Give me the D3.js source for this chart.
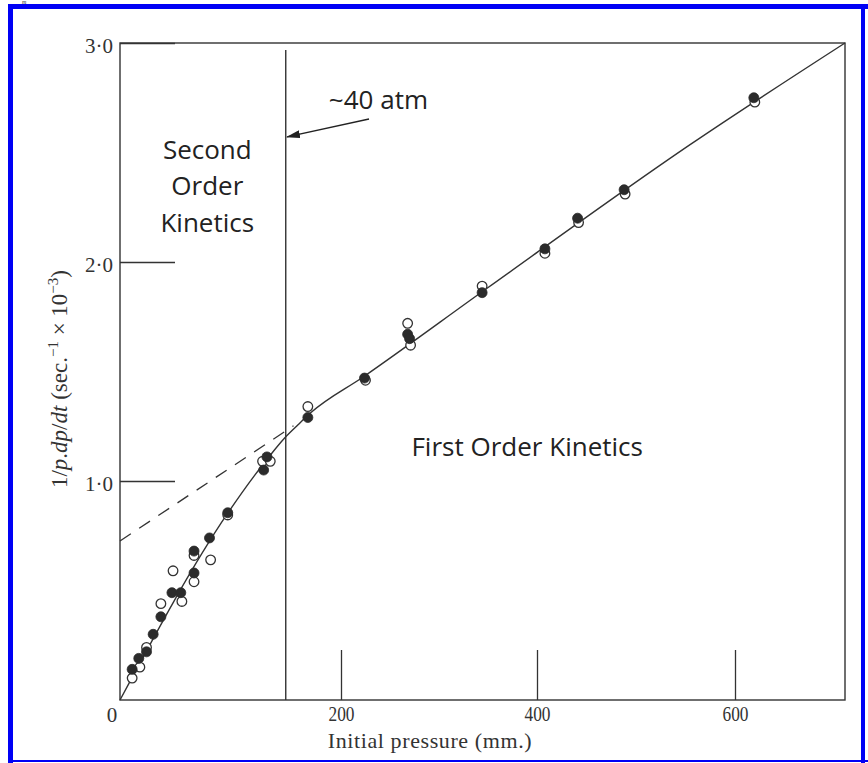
<!DOCTYPE html>
<html><head><meta charset="utf-8">
<script src="https://cdn.jsdelivr.net/npm/d3@7"></script>
<style>
html,body{margin:0;padding:0;background:#fff;}
svg{display:block;}
</style></head><body>
<svg id="chart" width="868" height="763"></svg>
<script>
// ---------- data ----------
const xTickValues = [200, 400, 600];
const xTickLabels = ["200", "400", "600"];
const yTickValues = [1, 2, 3];
const yTickLabels = ["1·0", "2·0", "3·0"];
const originLabel = "0";
const xAxisTitle = "Initial pressure (mm.)";

const filledPressure = [11, 17, 24, 30, 37, 47, 55, 67, 67, 81, 97.5, 130, 133, 170, 224, 268, 270, 344, 408, 441, 488, 619];
const filledRate     = [0.14, 0.19, 0.22, 0.30, 0.38, 0.49, 0.49, 0.58, 0.68, 0.74, 0.855, 1.05, 1.11, 1.29, 1.47, 1.67, 1.65, 1.86, 2.06, 2.20, 2.33, 2.75];
const openPressure   = [11, 18, 24, 37, 48, 56, 67, 67, 82, 97.5, 129, 136, 170, 225, 268, 271, 344, 408, 442, 489, 620];
const openRate       = [0.10, 0.15, 0.24, 0.44, 0.59, 0.45, 0.54, 0.66, 0.64, 0.845, 1.09, 1.09, 1.34, 1.46, 1.72, 1.62, 1.89, 2.04, 2.18, 2.31, 2.73];

const fitPressure = [0, 97.5, 122, 134, 149, 160, 172, 223, 349, 555, 711];
const fitRate     = [0, 0.853, 1.027, 1.105, 1.196, 1.251, 1.309, 1.476, 1.880, 2.537, 3.0];
const extrapPressure = [0, 157];
const extrapRate     = [0.726, 1.252];
const boundaryPressure = 150;

// ---------- layout ----------
const svg = d3.select("#chart");
const W = 868, H = 763;
const serif = "'Liberation Serif','Times New Roman',serif";
const sans = "'Open Sans','Noto Sans',sans-serif";
const ink = "#333";

svg.append("rect").attr("width", W).attr("height", H).attr("fill", "#fff");

// scanned figure: x axis spacing is not uniform, use a polylinear scale
const x = d3.scaleLinear().domain([0, 200, 400, 600, 711]).range([120, 341, 537, 735, 845]);
const y = d3.scaleLinear().domain([0, 3]).range([700, 43]);

// frame
svg.append("rect")
  .attr("x", x(0)).attr("y", y(3))
  .attr("width", x(711) - x(0)).attr("height", y(0) - y(3))
  .attr("fill", "none").attr("stroke", ink).attr("stroke-width", 1.4);

// x axis ticks (inward)
const gx = svg.append("g").attr("transform", `translate(0,${y(0)})`)
  .call(d3.axisBottom(x).tickValues(xTickValues).tickSize(-50).tickPadding(6)
        .tickFormat((d, i) => xTickLabels[i]));
gx.select(".domain").remove();
gx.selectAll(".tick line").attr("stroke", ink).attr("stroke-width", 1.3);
gx.selectAll(".tick text").attr("fill", ink).attr("font-family", serif).attr("font-size", 21)
  .attr("textLength", 26).attr("lengthAdjust", "spacingAndGlyphs");

// y axis ticks (inward)
const gy = svg.append("g").attr("transform", `translate(${x(0)},0)`)
  .call(d3.axisLeft(y).tickValues(yTickValues).tickSize(-55).tickPadding(7)
        .tickFormat((d, i) => yTickLabels[i]));
gy.select(".domain").remove();
gy.selectAll(".tick line").attr("stroke", ink).attr("stroke-width", 1.3);
gy.selectAll(".tick text").attr("fill", ink).attr("font-family", serif).attr("font-size", 21)
  .attr("dy", "0.45em");

// origin label
svg.append("text").attr("x", x(0) - 8).attr("y", y(0) + 22)
  .attr("text-anchor", "middle").attr("font-family", serif).attr("font-size", 21)
  .attr("fill", ink).text(originLabel);

// x axis title
svg.append("text").attr("x", 430).attr("y", 748)
  .attr("text-anchor", "middle").attr("font-family", serif).attr("font-size", 22)
  .attr("letter-spacing", 0.6).attr("fill", ink).text(xAxisTitle);

// y axis title
const yt = svg.append("text")
  .attr("transform", "translate(67,379) rotate(-90)")
  .attr("text-anchor", "middle").attr("font-family", serif).attr("font-size", 23).attr("fill", ink);
yt.append("tspan").text("1/");
yt.append("tspan").attr("font-style", "italic").text("p");
yt.append("tspan").text(".");
yt.append("tspan").attr("font-style", "italic").text("dp");
yt.append("tspan").text("/");
yt.append("tspan").attr("font-style", "italic").text("dt");
yt.append("tspan").text(" (sec.");
yt.append("tspan").attr("font-size", 15).attr("dy", -9).text("−1");
yt.append("tspan").attr("dy", 9).text(" × 10");
yt.append("tspan").attr("font-size", 15).attr("dy", -9).text("−3");
yt.append("tspan").attr("dy", 9).text(")");

// boundary line
svg.append("line")
  .attr("x1", x(boundaryPressure)).attr("x2", x(boundaryPressure))
  .attr("y1", y(0)).attr("y2", y(2.968))
  .attr("stroke", ink).attr("stroke-width", 1.4);

// extrapolated dashed line
svg.append("path")
  .attr("d", d3.line().x(d => x(d[0])).y(d => y(d[1]))(extrapPressure.map((p, i) => [p, extrapRate[i]])))
  .attr("fill", "none").attr("stroke", ink).attr("stroke-width", 1.3).attr("stroke-dasharray", "13,10");

// fitted curve
svg.append("path")
  .attr("d", d3.line().x(d => x(d[0])).y(d => y(d[1])).curve(d3.curveMonotoneX)(fitPressure.map((p, i) => [p, fitRate[i]])))
  .attr("fill", "none").attr("stroke", ink).attr("stroke-width", 1.4);

// points
svg.append("g").selectAll("circle").data(openPressure.map((p, i) => [p, openRate[i]]))
  .join("circle").attr("cx", d => x(d[0])).attr("cy", d => y(d[1])).attr("r", 4.8)
  .attr("fill", "#fff").attr("stroke", ink).attr("stroke-width", 1.3);
svg.append("g").selectAll("circle").data(filledPressure.map((p, i) => [p, filledRate[i]]))
  .join("circle").attr("cx", d => x(d[0])).attr("cy", d => y(d[1])).attr("r", 5)
  .attr("fill", "#2b2b2b").attr("stroke", "#2b2b2b").attr("stroke-width", 0.8);

// annotations
const secondLines = ["Second", "Order", "Kinetics"];
const secondBase = [2.470, 2.306, 2.137];
svg.append("g").selectAll("text").data(secondLines).join("text")
  .attr("x", x(79)).attr("y", (d, i) => y(secondBase[i]))
  .attr("text-anchor", "middle").attr("font-family", sans).attr("font-size", 26).attr("fill", "#222")
  .text(d => d);

svg.append("text").attr("x", x(390)).attr("y", y(1.114))
  .attr("text-anchor", "middle").attr("font-family", sans).attr("font-size", 26).attr("fill", "#222")
  .text("First Order Kinetics");

svg.append("text").attr("x", x(189)).attr("y", y(2.699))
  .attr("text-anchor", "start").attr("font-family", sans).attr("font-size", 26).attr("fill", "#222")
  .text("~40 atm");

svg.append("defs").append("marker").attr("id", "ah")
  .attr("viewBox", "0 0 14 8").attr("refX", 13).attr("refY", 4)
  .attr("markerWidth", 14).attr("markerHeight", 8).attr("markerUnits", "userSpaceOnUse")
  .attr("orient", "auto")
  .append("path").attr("d", "M0,0 L14,4 L0,8 Z").attr("fill", "#222");
svg.append("line")
  .attr("x1", x(228.6)).attr("y1", y(2.653)).attr("x2", x(151.1)).attr("y2", y(2.571))
  .attr("stroke", "#222").attr("stroke-width", 1.3).attr("marker-end", "url(#ah)");

// small glyph above the top edge of the scan
svg.append("text").attr("x", 22).attr("y", 4).attr("font-family", serif).attr("font-style", "italic")
  .attr("font-size", 6).attr("fill", "#222").text("m");

// blue border
const blue = "#0000f5";
svg.append("rect").attr("x", 8).attr("y", 4).attr("width", W - 8).attr("height", 5).attr("fill", blue);
svg.append("rect").attr("x", 8).attr("y", 4).attr("width", 5).attr("height", H - 4).attr("fill", blue);
svg.append("rect").attr("x", 8).attr("y", H - 3).attr("width", W - 8).attr("height", 2).attr("fill", blue);
svg.append("rect").attr("x", 861).attr("y", 4).attr("width", 4).attr("height", H - 4).attr("fill", blue);
</script>
</body></html>
